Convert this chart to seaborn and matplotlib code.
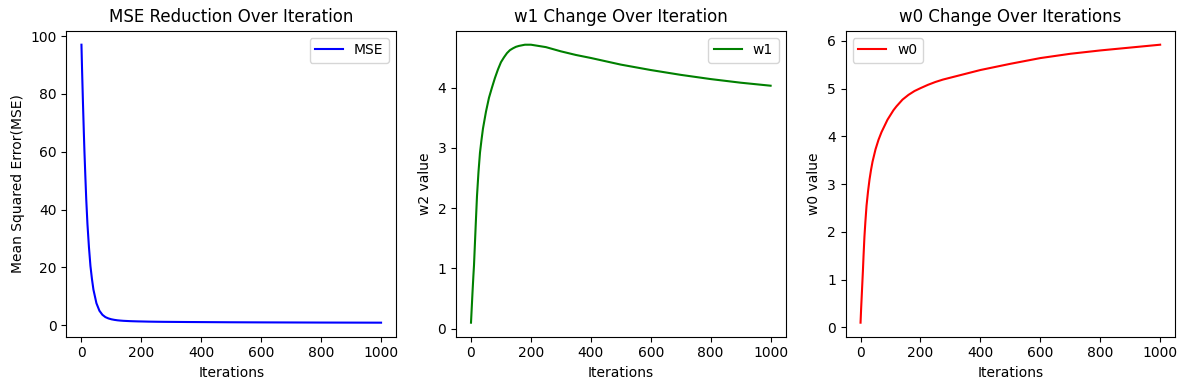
import numpy as np
import pandas as pd
import matplotlib
matplotlib.use("Agg")
import matplotlib.pyplot as plt
import seaborn as sns

# iterations (denser where the curves bend)
iterations = [0, 2, 5, 8, 10, 13, 16, 20, 25, 30, 35, 40, 50, 60, 70, 80, 90, 100,
              110, 120, 130, 140, 150, 160, 170, 180, 190, 200, 225, 250, 275, 300,
              350, 400, 500, 600, 700, 800, 900, 1000]

mse = [97.0, 88.5, 77.0, 66.5, 60.0, 51.5, 43.5, 35.0, 27.0, 20.5, 16.0, 12.3, 7.6, 5.0,
       3.6, 2.8, 2.35, 2.05, 1.85, 1.7, 1.6, 1.52, 1.47, 1.42, 1.38, 1.35, 1.32, 1.3,
       1.24, 1.2, 1.17, 1.15, 1.11, 1.08, 1.02, 0.98, 0.95, 0.92, 0.90, 0.88]

w1 = [0.1, 0.3, 0.6, 0.88, 1.05, 1.4, 1.75, 2.2, 2.6, 2.92, 3.13, 3.32, 3.6, 3.83,
      4.0, 4.16, 4.3, 4.42, 4.5, 4.57, 4.62, 4.65, 4.675, 4.69, 4.70, 4.71, 4.71,
      4.71, 4.69, 4.67, 4.635, 4.60, 4.54, 4.49, 4.38, 4.29, 4.21, 4.14, 4.08, 4.03]

w0 = [0.1, 0.4, 0.8, 1.2, 1.5, 1.9, 2.2, 2.55, 2.85, 3.1, 3.3, 3.47, 3.73, 3.93,
      4.09, 4.22, 4.35, 4.45, 4.55, 4.63, 4.70, 4.77, 4.82, 4.87, 4.91, 4.95, 4.98,
      5.01, 5.08, 5.14, 5.19, 5.23, 5.31, 5.39, 5.52, 5.64, 5.73, 5.80, 5.86, 5.92]

df = pd.DataFrame({'iter': iterations, 'mse': mse, 'w1': w1, 'w0': w0})

fig, axes = plt.subplots(1, 3, figsize=(11.87, 3.9), dpi=100)

# MSE
sns.lineplot(x='iter', y='mse', data=df, color='blue', label='MSE', ax=axes[0])
axes[0].set_title('MSE Reduction Over Iteration')
axes[0].set_xlabel('Iterations')
axes[0].set_ylabel('Mean Squared Error(MSE)')
axes[0].legend(loc='upper right')

# w1
sns.lineplot(x='iter', y='w1', data=df, color='green', label='w1', ax=axes[1])
axes[1].set_title('w1 Change Over Iteration')
axes[1].set_xlabel('Iterations')
axes[1].set_ylabel('w2 value')
axes[1].legend(loc='upper right')

# w0
sns.lineplot(x='iter', y='w0', data=df, color='red', label='w0', ax=axes[2])
axes[2].set_title('w0 Change Over Iterations')
axes[2].set_xlabel('Iterations')
axes[2].set_ylabel('w0 value')
axes[2].legend(loc='upper left')

plt.subplots_adjust(left=0.056, right=0.99, top=0.921, bottom=0.137, wspace=0.182)
plt.savefig('out.png')
